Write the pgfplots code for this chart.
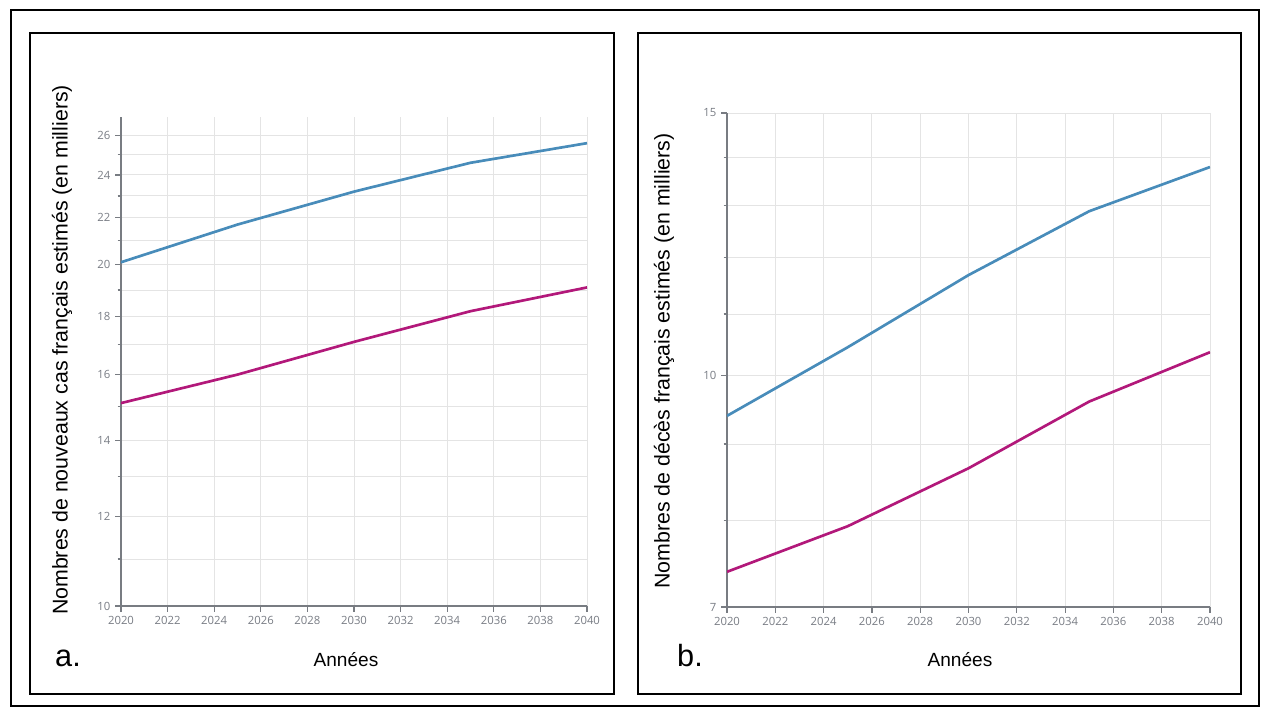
\documentclass[border=0pt]{standalone}
\usepackage{pgfplots}
\pgfplotsset{compat=1.18}
\usepackage{fontspec}
\setmainfont{Liberation Sans}
\newfontfamily\tickfont{Open Sans}
\definecolor{serieA}{RGB}{72,140,186}
\definecolor{serieB}{RGB}{178,24,122}
\definecolor{axgray}{RGB}{120,124,130}
\definecolor{gridgray}{RGB}{228,228,228}
\definecolor{tickgray}{RGB}{120,124,132}

% estimated values (thousands)
\pgfplotstableread{
annee cas_bleu cas_rose
2020 20.1 15.1
2025 21.7 16.0
2030 23.2 17.1
2035 24.6 18.2
2040 25.6 19.1
}\cas
\pgfplotstableread{
annee dc_bleu dc_rose
2020 9.40 7.39
2025 10.45 7.93
2030 11.68 8.67
2035 12.89 9.61
2040 13.80 10.37
}\deces

\pgfplotsset{
  panneau/.style={
    scale only axis,
    axis lines*=left,
    axis line style={axgray, line width=1.4pt, -},
    xmin=2020, xmax=2040,
    xtick={2020,2022,...,2040},
    grid=both,
    major grid style={gridgray, line width=0.7pt},
    minor grid style={gridgray, line width=0.7pt},
    tick align=outside,
    major tick length=4.5pt,
    minor tick length=2.5pt,
    tick style={axgray, line width=0.9pt},
    tick label style={font=\tickfont\fontsize{8.5}{9}\selectfont, text=tickgray},
    /pgf/number format/assume math mode=true,
    xticklabel style={/pgf/number format/1000 sep=},
  },
}

\begin{document}
\begin{tikzpicture}
\useasboundingbox (0,0) rectangle (945.75pt,531.75pt);
\draw[line width=2.2pt] (8.25pt,2.25pt) rectangle (944.25pt,524.25pt);
\draw[line width=2pt] (22.5pt,11.25pt) rectangle (460.5pt,507pt);
\draw[line width=2pt] (478.5pt,11.25pt) rectangle (930.75pt,507pt);

\begin{axis}[ymode=log, panneau,
  at={(90.75pt,77.25pt)}, anchor=south west,
  width=349.5pt, height=366.75pt,
  ymin=10, ymax=27,
  ytick={10,12,14,16,18,20,22,24,26},
  yticklabels={10,12,14,16,18,20,22,24,26},
  minor ytick={11,13,15,17,19,21,23,25},
]
\addplot[serieA, line width=2pt] table[x=annee, y=cas_bleu] {\cas};
\addplot[serieB, line width=2pt] table[x=annee, y=cas_rose] {\cas};
\end{axis}

\begin{axis}[ymode=log, panneau,
  at={(545.25pt,76.5pt)}, anchor=south west,
  width=362.25pt, height=370.5pt,
  ymin=7, ymax=15,
  ytick={7,10,15},
  yticklabels={7,10,15},
  minor ytick={8,9,11,12,13,14},
]
\addplot[serieA, line width=2pt] table[x=annee, y=dc_bleu] {\deces};
\addplot[serieB, line width=2pt] table[x=annee, y=dc_rose] {\deces};
\end{axis}

\node[rotate=90, font=\fontsize{16}{18}\selectfont] at (46.5pt,269.25pt)
  {Nombres de nouveaux cas français estimés (en milliers)};
\node[rotate=90, font=\fontsize{16}{18}\selectfont] at (498pt,261pt)
  {Nombres de décès français estimés (en milliers)};
\node[anchor=base, font=\fontsize{14.3}{16}\selectfont] at (259.5pt,31.5pt) {Années};
\node[anchor=base, font=\fontsize{14.3}{16}\selectfont] at (720pt,31.5pt) {Années};
\node[anchor=base, font=\fontsize{23}{25}\selectfont] at (51pt,31.5pt) {a.};
\node[anchor=base, font=\fontsize{23}{25}\selectfont] at (517.5pt,31.5pt) {b.};
\end{tikzpicture}
\end{document}
